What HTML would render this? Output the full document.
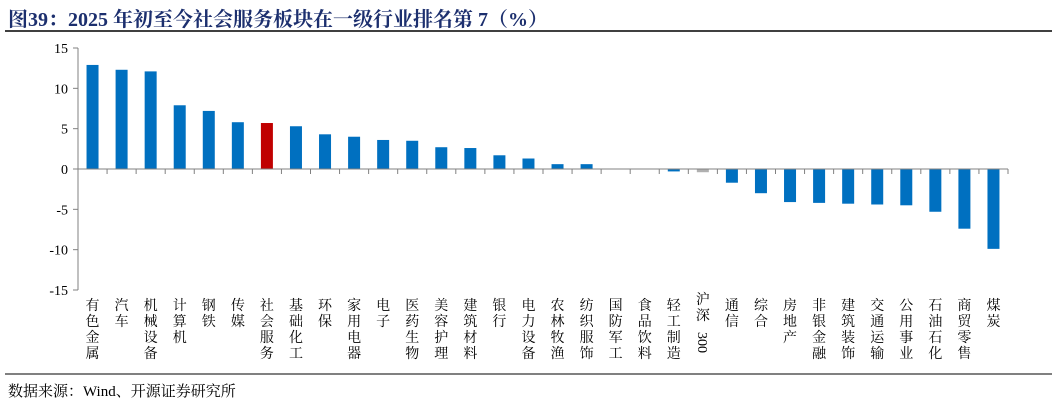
<!DOCTYPE html>
<html><head><meta charset="utf-8">
<style>
body{margin:0;background:#fff;width:1057px;height:405px;overflow:hidden;position:relative;font-family:"Liberation Serif","Noto Serif CJK SC",serif}
#title{position:absolute;left:8px;top:3px;font-size:20px;font-weight:bold;color:#1c2f6e;white-space:nowrap;font-family:"Liberation Serif","Noto Serif CJK SC",serif}
#source{position:absolute;left:8px;top:380px;font-size:15px;color:#000;font-family:"Liberation Serif","Noto Serif CJK SC",serif}
</style></head><body>
<div id="title">图39：2025 年初至今社会服务板块在一级行业排名第 7（%）</div>
<svg id="chart" width="1057" height="405" style="position:absolute;left:0;top:0">
<line x1="5" y1="31" x2="1052" y2="31" stroke="#000" stroke-width="1.5"/>
<line x1="5" y1="374" x2="1052" y2="374" stroke="#000" stroke-width="1"/>
</svg>
<div id="source">数据来源：Wind、开源证券研究所</div>
<script>
const categories=["有色金属","汽车","机械设备","计算机","钢铁","传媒","社会服务","基础化工","环保","家用电器","电子","医药生物","美容护理","建筑材料","银行","电力设备","农林牧渔","纺织服饰","国防军工","食品饮料","轻工制造","沪深300","通信","综合","房地产","非银金融","建筑装饰","交通运输","公用事业","石油石化","商贸零售","煤炭"];
const values=[12.9,12.3,12.1,7.9,7.2,5.8,5.7,5.3,4.3,4.0,3.6,3.5,2.7,2.6,1.7,1.3,0.6,0.6,0.05,0.02,-0.3,-0.4,-1.7,-3.0,-4.1,-4.2,-4.3,-4.4,-4.5,-5.3,-7.4,-9.9];
const yTicks=[15,10,5,0,-5,-10,-15];
const highlight="社会服务", benchmark="沪深300";
const NS="http://www.w3.org/2000/svg";
const svg=document.getElementById('chart');
const X0=78,X1=1008,Y_TOP=48,Y_BOT=290,YMAX=15,YMIN=-15;
const step=(X1-X0)/categories.length;
function y(v){return Y_TOP+(YMAX-v)/(YMAX-YMIN)*(Y_BOT-Y_TOP);}
function xc(i){return X0+step*(i+0.5);}
function mk(tag,attrs){const e=document.createElementNS(NS,tag);for(const k in attrs)e.setAttribute(k,attrs[k]);svg.appendChild(e);return e;}
// y axis
let ax=mk('line',{x1:X0,y1:Y_TOP,x2:X0,y2:Y_BOT,stroke:'#808080','stroke-width':1});


yTicks.forEach(t=>{
  const tk=mk('line',{x1:X0-5,y1:y(t),x2:X0,y2:y(t),stroke:'#808080'});
  
  
  const tx=mk('text',{x:X0-10,y:y(t)+5,'text-anchor':'end','font-size':14,'font-family':'Liberation Serif, serif'});
  tx.textContent=t;
  
  
});
// bars
categories.forEach((c,i)=>{
  const v=values[i];
  const col=c===highlight?'#c00000':(c===benchmark?'#b0b0b0':'#0070c0');
  const top=Math.min(y(v),y(0)),h=Math.abs(y(v)-y(0));
  const r=mk('rect',{x:xc(i)-6,y:top,width:12,height:Math.max(h,0.5),fill:col});
  
  
  const label=mk('text',{x:xc(i),y:312,'text-anchor':'middle','font-size':14,'font-family':'Liberation Serif, Noto Serif CJK SC, serif'});
  
  
  if(c==="沪深300"){
    label.setAttribute('y',304);
    const t1=document.createElementNS(NS,'tspan');t1.setAttribute('x',xc(i));t1.setAttribute('dy',0);t1.textContent='沪';label.appendChild(t1);
    const t2=document.createElementNS(NS,'tspan');t2.setAttribute('x',xc(i));t2.setAttribute('dy',16);t2.textContent='深';label.appendChild(t2);
    const t3=document.createElementNS(NS,'text');
    t3.setAttribute('transform','translate('+(xc(i)-5)+',332) rotate(90)');
    t3.setAttribute('font-size',14);t3.setAttribute('font-family','Liberation Serif, serif');
    t3.textContent='300';
    
    
    svg.appendChild(t3);
  } else {
    label.setAttribute('y',316);
    [...c].forEach((ch,k)=>{const s=document.createElementNS(NS,'tspan');s.setAttribute('x',xc(i));s.setAttribute('dy',k?16:-6);s.textContent=ch;label.appendChild(s);});
  }
});
// x axis
const xa=mk('line',{x1:X0,y1:y(0),x2:X1,y2:y(0),stroke:'#808080','stroke-width':1});


for(let i=0;i<=categories.length;i++){
  const tk=mk('line',{x1:X0+step*i,y1:y(0),x2:X0+step*i,y2:y(0)+5,stroke:'#808080'});
  
  
}
</script>
</body></html>
